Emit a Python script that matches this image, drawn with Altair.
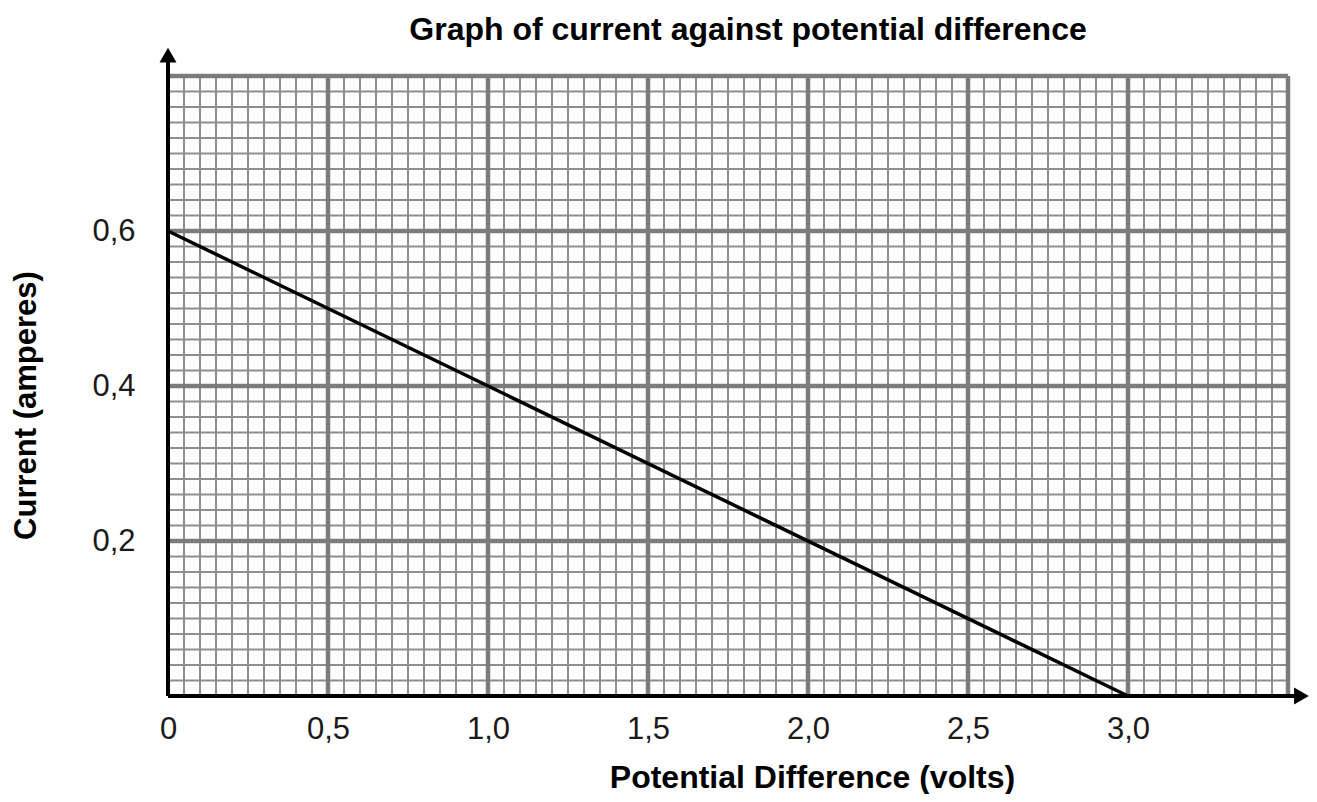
import altair as alt
import pandas as pd

# ---- data ----
x_tick_values = [0, 0.5, 1.0, 1.5, 2.0, 2.5, 3.0]
y_tick_values = [0.2, 0.4, 0.6]
pd_volts = [0.0, 3.0]
current_amps = [0.6, 0.0]

X_MAX = 3.5
Y_MAX = 0.8
minor_x = [round(i * 0.05, 2) for i in range(1, 70)]
minor_y = [round(i * 0.02, 2) for i in range(1, 40)]
major_x = [0.5, 1.0, 1.5, 2.0, 2.5, 3.0, 3.5]
major_y = [0.2, 0.4, 0.6, 0.8]

X_AXIS_END = 3.542
Y_AXIS_END = 0.827

FONT = "Liberation Sans"

xscale = alt.Scale(domain=[0, X_MAX], nice=False, zero=False)
yscale = alt.Scale(domain=[0, Y_MAX], nice=False, zero=False)

xaxis = alt.Axis(
    values=x_tick_values,
    labelExpr="datum.value == 0 ? '0' : replace(format(datum.value, '.1f'), '.', ',')",
    domain=False, ticks=False, grid=False,
    labelFont=FONT, labelFontSize=31, labelColor="#1a1a1a", labelPadding=18,
    labelFlush=False, labelOverlap=False,
    title="Potential Difference (volts)", titleFont=FONT, titleFontSize=32,
    titleFontWeight="bold", titleColor="black",
    titleX=644, titleY=91, titleAlign="center", titleBaseline="alphabetic",
)
yaxis = alt.Axis(
    values=y_tick_values,
    labelExpr="replace(format(datum.value, '.1f'), '.', ',')",
    domain=False, ticks=False, grid=False,
    labelFont=FONT, labelFontSize=31, labelColor="#1a1a1a", labelPadding=33,
    labelFlush=False, labelOverlap=False,
    title="Current (amperes)", titleFont=FONT, titleFontSize=31,
    titleFontWeight="bold", titleColor="black",
    titleX=-133, titleY=329, titleAngle=270, titleAlign="center",
    titleBaseline="alphabetic",
)


def X(field):
    return alt.X(field, type="quantitative", scale=xscale, axis=xaxis)


def Y(field):
    return alt.Y(field, type="quantitative", scale=yscale, axis=yaxis)


df_mv = pd.DataFrame({"x": minor_x, "y0": 0.0, "y1": Y_MAX})
df_mh = pd.DataFrame({"y": minor_y, "x0": 0.0, "x1": X_MAX})
df_Mv = pd.DataFrame({"x": major_x, "y0": 0.0, "y1": Y_MAX})
df_Mh = pd.DataFrame({"y": major_y, "x0": 0.0, "x1": X_MAX})
df_line = pd.DataFrame({"x": pd_volts, "y": current_amps})
df_xaxis = pd.DataFrame({"x0": [0.0], "x1": [X_AXIS_END], "y": [0.0]})
df_yaxis = pd.DataFrame({"x": [0.0], "y0": [0.0], "y1": [Y_AXIS_END]})
df_xarrow = pd.DataFrame({"x": [X_AXIS_END], "y": [0.0]})
df_yarrow = pd.DataFrame({"x": [0.0], "y": [Y_AXIS_END]})

MINOR = "#8e8e8e"
MAJOR = "#7c7c7c"

minor_v = alt.Chart(df_mv).mark_rule(color=MINOR, strokeWidth=2).encode(
    x=X("x"), y=Y("y0"), y2="y1:Q"
)
minor_h = alt.Chart(df_mh).mark_rule(color=MINOR, strokeWidth=2).encode(
    x=X("x0"), x2="x1:Q", y=Y("y")
)
major_v = alt.Chart(df_Mv).mark_rule(color=MAJOR, strokeWidth=4.5).encode(
    x=X("x"), y=Y("y0"), y2="y1:Q"
)
major_h = alt.Chart(df_Mh).mark_rule(color=MAJOR, strokeWidth=4.5).encode(
    x=X("x0"), x2="x1:Q", y=Y("y")
)
line = alt.Chart(df_line).mark_line(color="black", strokeWidth=3.5).encode(
    x=X("x"), y=Y("y")
)
x_axis_line = alt.Chart(df_xaxis).mark_rule(color="black", strokeWidth=4).encode(
    x=X("x0"), x2="x1:Q", y=Y("y")
)
y_axis_line = alt.Chart(df_yaxis).mark_rule(color="black", strokeWidth=4).encode(
    x=X("x"), y=Y("y0"), y2="y1:Q"
)
x_arrow = alt.Chart(df_xarrow).mark_point(
    shape="triangle-right", filled=True, size=289, color="black", opacity=1
).encode(x=X("x"), y=Y("y"))
y_arrow = alt.Chart(df_yarrow).mark_point(
    shape="triangle-up", filled=True, size=289, color="black", opacity=1
).encode(x=X("x"), y=Y("y"))

chart = alt.layer(
    minor_v, minor_h, major_v, major_h, line,
    x_axis_line, y_axis_line, x_arrow, y_arrow,
).properties(
    width=1120,
    height=620,
    autosize=alt.AutoSizeParams(type="none"),
    padding={"left": 160, "top": 68, "right": 21, "bottom": 98},
    title=alt.TitleParams(
        "Graph of current against potential difference",
        font=FONT, fontSize=32, fontWeight="bold", color="black",
        anchor="middle", dx=20, offset=1,
    ),
    background="white",
).configure_view(stroke=None)

chart.save("out.html", embed_options={"renderer": "svg", "actions": False})
